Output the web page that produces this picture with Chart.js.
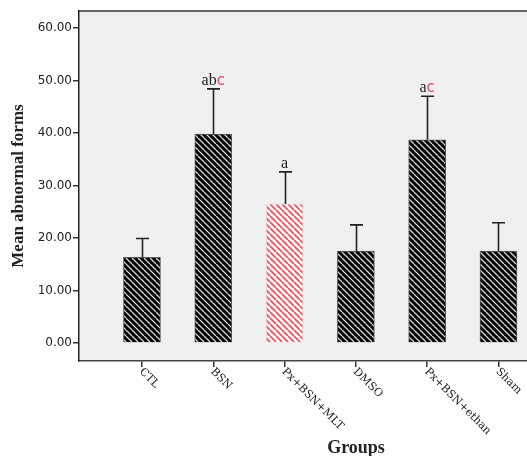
<!DOCTYPE html>
<html>
<head>
<meta charset="utf-8">
<script src="https://cdn.jsdelivr.net/npm/chart.js@4.4.1/dist/chart.umd.min.js"></script>
<style>
  html, body { margin: 0; padding: 0; background: #fff; overflow: hidden; }
  #wrap { width: 527px; height: 456px; }
</style>
</head>
<body>
<div id="wrap"><canvas id="chart" width="527" height="456"></canvas></div>
<script>
// values
const groups = ['CTL', 'BSN', 'Px+BSN+MLT', 'DMSO', 'Px+BSN+ethan', 'Sham'];
const means = [16.3, 39.8, 26.5, 17.5, 38.7, 17.5];
const errTop = [19.9, 48.4, 32.6, 22.5, 47.0, 22.9];
const letters = ['', 'ab', 'a', '', 'a', ''];
const redLetters = ['', 'c', '', '', 'c', ''];
const yTicks = [0, 10, 20, 30, 40, 50, 60];

// hatch patterns "\\\" like SPSS
function hatch(bg, fg, lw) {
  const c = document.createElement('canvas');
  c.width = 6; c.height = 6;
  const g = c.getContext('2d');
  g.fillStyle = bg;
  g.fillRect(0, 0, 6, 6);
  g.strokeStyle = fg;
  g.lineWidth = lw;
  g.beginPath();
  [-6, 0, 6].forEach(function (o) {
    g.moveTo(o, 0);
    g.lineTo(o + 6, 6);
  });
  g.stroke();
  return g.createPattern(c, 'repeat');
}
const darkHatch = hatch('#000', '#d8d8d8', 1.3);
const redHatch = hatch('#fff', '#f2505f', 1.8);
const fills = groups.map((g, i) => i === 2 ? redHatch : darkHatch);
const borders = groups.map((g, i) => i === 2 ? '#fbd0d4' : '#555');

const plotFrame = {
  id: 'plotFrame',
  beforeDraw(chart) {
    const { ctx, chartArea: a } = chart;
    ctx.save();
    ctx.fillStyle = '#f0f0f0';
    ctx.fillRect(a.left, a.top, a.right - a.left, a.bottom - a.top);
    ctx.strokeStyle = '#666';
    ctx.lineWidth = 2;
    ctx.beginPath();
    ctx.moveTo(a.left, a.top);
    ctx.lineTo(a.right, a.top);
    ctx.stroke();
    ctx.restore();
  },
  afterDatasetsDraw(chart) {
    const { ctx } = chart;
    const x = chart.scales.x, y = chart.scales.y;
    ctx.save();
    // error bars (upper only)
    ctx.strokeStyle = '#222';
    ctx.lineWidth = 1.6;
    means.forEach(function (m, i) {
      const px = Math.round(x.getPixelForValue(i)) + 0.5;
      const y0 = y.getPixelForValue(m);
      const y1 = y.getPixelForValue(errTop[i]);
      ctx.beginPath();
      ctx.moveTo(px, y0);
      ctx.lineTo(px, y1);
      ctx.moveTo(px - 6.5, y1);
      ctx.lineTo(px + 6.5, y1);
      ctx.stroke();
    });
    // significance letters
    ctx.textBaseline = 'alphabetic';
    groups.forEach(function (g, i) {
      const blk = letters[i], red = redLetters[i];
      if (!blk && !red) return;
      const px = x.getPixelForValue(i);
      const py = y.getPixelForValue(errTop[i]) - 4;
      const f1 = '16px "Liberation Serif", serif';
      const f2 = '15px "DejaVu Sans", sans-serif';
      ctx.font = f1;
      const w1 = ctx.measureText(blk).width;
      ctx.font = f2;
      const w2 = ctx.measureText(red).width;
      let sx = px - (w1 + w2) / 2;
      ctx.textAlign = 'left';
      ctx.font = f1;
      ctx.fillStyle = '#222';
      ctx.fillText(blk, sx, py);
      ctx.font = f2;
      ctx.fillStyle = '#f0406a';
      ctx.fillText(red, sx + w1, py);
    });
    ctx.restore();
  },
  afterDraw(chart) {
    const { ctx } = chart;
    const x = chart.scales.x;
    ctx.save();
    // rotated category labels, reading downwards from the tick
    ctx.font = '11px "DejaVu Serif", serif';
    ctx.fillStyle = '#222';
    ctx.textAlign = 'left';
    ctx.textBaseline = 'middle';
    groups.forEach(function (g, i) {
      const px = x.getPixelForValue(i);
      ctx.save();
      ctx.translate(px - 1, x.top + 9);
      ctx.rotate(Math.PI / 4);
      ctx.fillText(g, 0, 0);
      ctx.restore();
    });
    ctx.font = 'bold 18px "Liberation Serif", serif';
    ctx.textAlign = 'center';
    ctx.textBaseline = 'alphabetic';
    ctx.fillText('Groups', 356, 453);
    ctx.restore();
  }
};

new Chart(document.getElementById('chart'), {
  type: 'bar',
  data: {
    datasets: [{
      data: means.map((v, i) => ({ x: i, y: v })),
      backgroundColor: fills,
      borderColor: borders,
      borderWidth: 1,
      barThickness: 37
    }]
  },
  options: {
    responsive: false,
    animation: false,
    layout: { padding: { top: 11, right: 0, left: 0, bottom: 0 } },
    plugins: { legend: { display: false }, tooltip: { enabled: false } },
    scales: {
      x: {
        type: 'linear',
        offset: false,
        min: -0.883,
        max: 5.4,
        afterBuildTicks: s => { s.ticks = groups.map((g, i) => ({ value: i })); },
        afterFit: s => { s.height = 95; },
        ticks: { display: false },
        grid: { offset: false, drawOnChartArea: false, drawTicks: true, tickLength: 6, color: '#333', lineWidth: 1.5 },
        border: { color: '#444', width: 1.5 }
      },
      y: {
        min: -3.43,
        max: 63.24,
        afterBuildTicks: s => { s.ticks = yTicks.map(v => ({ value: v })); },
        afterFit: s => { s.width = 79; },
        ticks: {
          callback: v => v.toFixed(2),
          font: { family: '"DejaVu Sans", sans-serif', size: 12 },
          color: '#222',
          padding: 1
        },
        grid: { drawOnChartArea: false, drawTicks: true, tickLength: 6, color: '#333', lineWidth: 1.5 },
        border: { color: '#222', width: 1.5 },
        title: {
          display: true,
          text: 'Mean abnormal forms',
          font: { family: '"Liberation Serif", serif', size: 17, weight: 'bold' },
          color: '#222',
          padding: { top: 8, bottom: 0 }
        }
      }
    }
  },
  plugins: [plotFrame]
});
</script>
</body>
</html>
